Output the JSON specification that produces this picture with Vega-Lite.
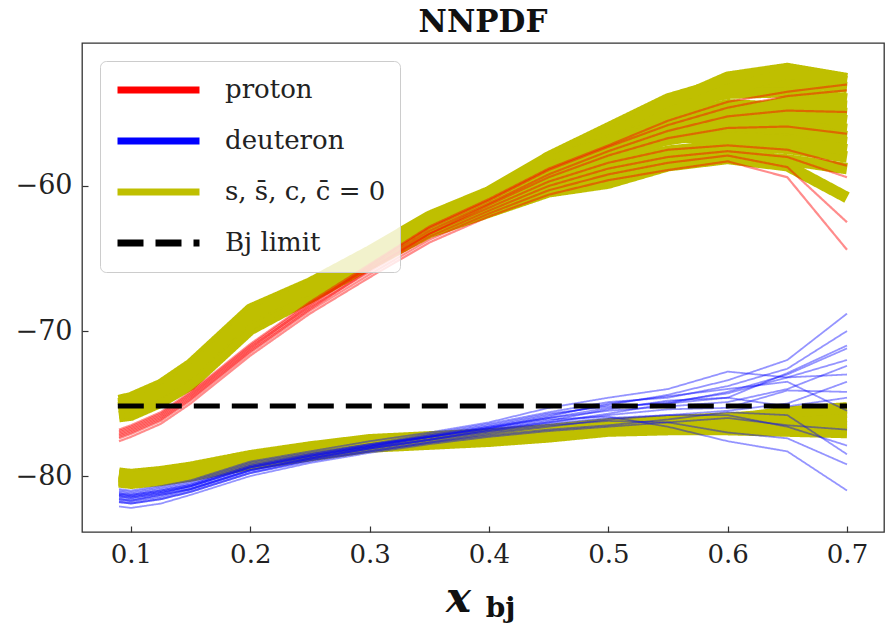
{
  "$schema": "https://vega.github.io/schema/vega-lite/v6.json",
  "width": 802,
  "height": 489,
  "autosize": {"type": "none"},
  "padding": {"left": 82, "top": 43, "right": 7, "bottom": 99},
  "background": "white",
  "title": {"text": "NNPDF", "font": "DejaVu Serif", "fontSize": 31, "fontWeight": "bold", "color": "#111", "offset": 4, "anchor": "middle"},
  "config": {
    "view": {"stroke": "#333", "strokeWidth": 1.3},
    "axis": {"grid": false, "domain": false, "tickSize": -6, "tickColor": "#333", "tickWidth": 1.2, "labelFont": "DejaVu Serif", "labelFontSize": 26, "labelColor": "#222"},
    "axisY": {"labelPadding": 16}
  },
  "datasets": {
    "s0": [
      {"x":0.09,"y":-75.9,"r":"a0"},{"x":0.1,"y":-75.8,"r":"a0"},{"x":0.125,"y":-74.9,"r":"a0"},{"x":0.15,"y":-73.7,"r":"a0"},{"x":0.2,"y":-69.9,"r":"a0"},{"x":0.25,"y":-67.7,"r":"a0"},{"x":0.3,"y":-65.4,"r":"a0"},{"x":0.35,"y":-63.2,"r":"a0"},{"x":0.4,"y":-61.8,"r":"a0"},{"x":0.45,"y":-60.4,"r":"a0"},{"x":0.5,"y":-59.8,"r":"a0"},{"x":0.55,"y":-58.6,"r":"a0"},{"x":0.6,"y":-58.1,"r":"a0"},{"x":0.65,"y":-58.6,"r":"a0"},{"x":0.7,"y":-60.8,"r":"a0"},
      {"x":0.09,"y":-75.6,"r":"a1"},{"x":0.1,"y":-75.5,"r":"a1"},{"x":0.125,"y":-74.6,"r":"a1"},{"x":0.15,"y":-73.4,"r":"a1"},{"x":0.2,"y":-69.6,"r":"a1"},{"x":0.25,"y":-67.5,"r":"a1"},{"x":0.3,"y":-65.2,"r":"a1"},{"x":0.35,"y":-63.0,"r":"a1"},{"x":0.4,"y":-61.6,"r":"a1"},{"x":0.45,"y":-60.0,"r":"a1"},{"x":0.5,"y":-59.3,"r":"a1"},{"x":0.55,"y":-58.3,"r":"a1"},{"x":0.6,"y":-57.9,"r":"a1"},{"x":0.65,"y":-58.2,"r":"a1"},{"x":0.7,"y":-58.8,"r":"a1"},
      {"x":0.09,"y":-75.4,"r":"a2"},{"x":0.1,"y":-75.3,"r":"a2"},{"x":0.125,"y":-74.4,"r":"a2"},{"x":0.15,"y":-73.1,"r":"a2"},{"x":0.2,"y":-69.3,"r":"a2"},{"x":0.25,"y":-67.3,"r":"a2"},{"x":0.3,"y":-65.0,"r":"a2"},{"x":0.35,"y":-62.8,"r":"a2"},{"x":0.4,"y":-61.3,"r":"a2"},{"x":0.45,"y":-59.6,"r":"a2"},{"x":0.5,"y":-58.6,"r":"a2"},{"x":0.55,"y":-57.6,"r":"a2"},{"x":0.6,"y":-57.2,"r":"a2"},{"x":0.65,"y":-57.4,"r":"a2"},{"x":0.7,"y":-58.0,"r":"a2"},
      {"x":0.09,"y":-75.2,"r":"a3"},{"x":0.1,"y":-75.0,"r":"a3"},{"x":0.125,"y":-74.1,"r":"a3"},{"x":0.15,"y":-72.8,"r":"a3"},{"x":0.2,"y":-69.0,"r":"a3"},{"x":0.25,"y":-67.1,"r":"a3"},{"x":0.3,"y":-64.9,"r":"a3"},{"x":0.35,"y":-62.6,"r":"a3"},{"x":0.4,"y":-61.1,"r":"a3"},{"x":0.45,"y":-59.2,"r":"a3"},{"x":0.5,"y":-57.9,"r":"a3"},{"x":0.55,"y":-56.8,"r":"a3"},{"x":0.6,"y":-56.2,"r":"a3"},{"x":0.65,"y":-56.5,"r":"a3"},{"x":0.7,"y":-57.0,"r":"a3"},
      {"x":0.09,"y":-75.0,"r":"a4"},{"x":0.1,"y":-74.8,"r":"a4"},{"x":0.125,"y":-73.9,"r":"a4"},{"x":0.15,"y":-72.5,"r":"a4"},{"x":0.2,"y":-68.7,"r":"a4"},{"x":0.25,"y":-66.9,"r":"a4"},{"x":0.3,"y":-64.8,"r":"a4"},{"x":0.35,"y":-62.4,"r":"a4"},{"x":0.4,"y":-60.9,"r":"a4"},{"x":0.45,"y":-58.9,"r":"a4"},{"x":0.5,"y":-57.3,"r":"a4"},{"x":0.55,"y":-56.0,"r":"a4"},{"x":0.6,"y":-55.4,"r":"a4"},{"x":0.65,"y":-55.6,"r":"a4"},{"x":0.7,"y":-56.1,"r":"a4"},
      {"x":0.09,"y":-75.5,"r":"a5"},{"x":0.1,"y":-75.4,"r":"a5"},{"x":0.125,"y":-74.5,"r":"a5"},{"x":0.15,"y":-73.2,"r":"a5"},{"x":0.2,"y":-69.2,"r":"a5"},{"x":0.25,"y":-67.2,"r":"a5"},{"x":0.3,"y":-64.6,"r":"a5"},{"x":0.35,"y":-62.3,"r":"a5"},{"x":0.4,"y":-60.6,"r":"a5"},{"x":0.45,"y":-58.6,"r":"a5"},{"x":0.5,"y":-56.8,"r":"a5"},{"x":0.55,"y":-55.2,"r":"a5"},{"x":0.6,"y":-54.4,"r":"a5"},{"x":0.65,"y":-54.6,"r":"a5"},{"x":0.7,"y":-55.0,"r":"a5"},
      {"x":0.09,"y":-75.3,"r":"a6"},{"x":0.1,"y":-75.1,"r":"a6"},{"x":0.125,"y":-74.2,"r":"a6"},{"x":0.15,"y":-72.9,"r":"a6"},{"x":0.2,"y":-68.9,"r":"a6"},{"x":0.25,"y":-67.0,"r":"a6"},{"x":0.3,"y":-64.6,"r":"a6"},{"x":0.35,"y":-62.2,"r":"a6"},{"x":0.4,"y":-60.5,"r":"a6"},{"x":0.45,"y":-58.2,"r":"a6"},{"x":0.5,"y":-56.3,"r":"a6"},{"x":0.55,"y":-54.5,"r":"a6"},{"x":0.6,"y":-53.6,"r":"a6"},{"x":0.65,"y":-53.5,"r":"a6"},{"x":0.7,"y":-54.0,"r":"a6"},
      {"x":0.09,"y":-74.8,"r":"a7"},{"x":0.1,"y":-74.6,"r":"a7"},{"x":0.125,"y":-73.7,"r":"a7"},{"x":0.15,"y":-72.3,"r":"a7"},{"x":0.2,"y":-68.5,"r":"a7"},{"x":0.25,"y":-66.7,"r":"a7"},{"x":0.3,"y":-64.5,"r":"a7"},{"x":0.35,"y":-62.1,"r":"a7"},{"x":0.4,"y":-60.4,"r":"a7"},{"x":0.45,"y":-58.0,"r":"a7"},{"x":0.5,"y":-56.0,"r":"a7"},{"x":0.55,"y":-54.0,"r":"a7"},{"x":0.6,"y":-52.8,"r":"a7"},{"x":0.65,"y":-52.8,"r":"a7"},{"x":0.7,"y":-53.2,"r":"a7"},
      {"x":0.09,"y":-75.1,"r":"a8"},{"x":0.1,"y":-74.9,"r":"a8"},{"x":0.125,"y":-74.0,"r":"a8"},{"x":0.15,"y":-72.6,"r":"a8"},{"x":0.2,"y":-68.8,"r":"a8"},{"x":0.25,"y":-67.0,"r":"a8"},{"x":0.3,"y":-64.9,"r":"a8"},{"x":0.35,"y":-62.5,"r":"a8"},{"x":0.4,"y":-60.8,"r":"a8"},{"x":0.45,"y":-58.5,"r":"a8"},{"x":0.5,"y":-56.6,"r":"a8"},{"x":0.55,"y":-54.3,"r":"a8"},{"x":0.6,"y":-52.5,"r":"a8"},{"x":0.65,"y":-51.9,"r":"a8"},{"x":0.7,"y":-52.6,"r":"a8"},
      {"x":0.09,"y":-75.7,"r":"a9"},{"x":0.1,"y":-75.6,"r":"a9"},{"x":0.125,"y":-74.7,"r":"a9"},{"x":0.15,"y":-73.5,"r":"a9"},{"x":0.2,"y":-69.5,"r":"a9"},{"x":0.25,"y":-67.4,"r":"a9"},{"x":0.3,"y":-65.1,"r":"a9"},{"x":0.35,"y":-62.9,"r":"a9"},{"x":0.4,"y":-61.2,"r":"a9"},{"x":0.45,"y":-59.0,"r":"a9"},{"x":0.5,"y":-57.2,"r":"a9"},{"x":0.55,"y":-55.0,"r":"a9"},{"x":0.6,"y":-53.4,"r":"a9"},{"x":0.65,"y":-52.2,"r":"a9"},{"x":0.7,"y":-52.8,"r":"a9"},
      {"x":0.09,"y":-75.4,"r":"a10"},{"x":0.1,"y":-75.2,"r":"a10"},{"x":0.125,"y":-74.3,"r":"a10"},{"x":0.15,"y":-72.9,"r":"a10"},{"x":0.2,"y":-69.1,"r":"a10"},{"x":0.25,"y":-67.1,"r":"a10"},{"x":0.3,"y":-64.8,"r":"a10"},{"x":0.35,"y":-62.5,"r":"a10"},{"x":0.4,"y":-60.9,"r":"a10"},{"x":0.45,"y":-58.8,"r":"a10"},{"x":0.5,"y":-57.6,"r":"a10"},{"x":0.55,"y":-56.4,"r":"a10"},{"x":0.6,"y":-55.8,"r":"a10"},{"x":0.65,"y":-56.0,"r":"a10"},{"x":0.7,"y":-56.6,"r":"a10"},
      {"x":0.09,"y":-75.1,"r":"a11"},{"x":0.1,"y":-74.9,"r":"a11"},{"x":0.125,"y":-74.0,"r":"a11"},{"x":0.15,"y":-72.7,"r":"a11"},{"x":0.2,"y":-68.8,"r":"a11"},{"x":0.25,"y":-66.9,"r":"a11"},{"x":0.3,"y":-64.6,"r":"a11"},{"x":0.35,"y":-62.3,"r":"a11"},{"x":0.4,"y":-60.7,"r":"a11"},{"x":0.45,"y":-58.4,"r":"a11"},{"x":0.5,"y":-56.9,"r":"a11"},{"x":0.55,"y":-55.6,"r":"a11"},{"x":0.6,"y":-54.9,"r":"a11"},{"x":0.65,"y":-55.0,"r":"a11"},{"x":0.7,"y":-55.5,"r":"a11"},
      {"x":0.09,"y":-75.0,"r":"a12"},{"x":0.1,"y":-74.8,"r":"a12"},{"x":0.125,"y":-73.9,"r":"a12"},{"x":0.15,"y":-72.6,"r":"a12"},{"x":0.2,"y":-68.7,"r":"a12"},{"x":0.25,"y":-66.8,"r":"a12"},{"x":0.3,"y":-64.7,"r":"a12"},{"x":0.35,"y":-62.2,"r":"a12"},{"x":0.4,"y":-60.6,"r":"a12"},{"x":0.45,"y":-58.3,"r":"a12"},{"x":0.5,"y":-57.0,"r":"a12"},{"x":0.55,"y":-55.8,"r":"a12"},{"x":0.6,"y":-55.0,"r":"a12"},{"x":0.65,"y":-54.2,"r":"a12"},{"x":0.7,"y":-54.5,"r":"a12"},
      {"x":0.09,"y":-75.3,"r":"a13"},{"x":0.1,"y":-75.1,"r":"a13"},{"x":0.125,"y":-74.2,"r":"a13"},{"x":0.15,"y":-72.8,"r":"a13"},{"x":0.2,"y":-68.9,"r":"a13"},{"x":0.25,"y":-67.0,"r":"a13"},{"x":0.3,"y":-64.8,"r":"a13"},{"x":0.35,"y":-62.4,"r":"a13"},{"x":0.4,"y":-60.7,"r":"a13"},{"x":0.45,"y":-58.7,"r":"a13"},{"x":0.5,"y":-57.6,"r":"a13"},{"x":0.55,"y":-56.6,"r":"a13"},{"x":0.6,"y":-56.7,"r":"a13"},{"x":0.65,"y":-56.9,"r":"a13"},{"x":0.7,"y":-57.5,"r":"a13"},
      {"x":0.09,"y":-80.4,"r":"b0"},{"x":0.1,"y":-80.5,"r":"b0"},{"x":0.125,"y":-80.3,"r":"b0"},{"x":0.15,"y":-80.0,"r":"b0"},{"x":0.2,"y":-79.2,"r":"b0"},{"x":0.25,"y":-78.6,"r":"b0"},{"x":0.3,"y":-78.0,"r":"b0"},{"x":0.35,"y":-77.8,"r":"b0"},{"x":0.4,"y":-77.6,"r":"b0"},{"x":0.45,"y":-77.3,"r":"b0"},{"x":0.5,"y":-76.9,"r":"b0"},{"x":0.55,"y":-76.8,"r":"b0"},{"x":0.6,"y":-76.8,"r":"b0"},{"x":0.65,"y":-76.9,"r":"b0"},{"x":0.7,"y":-77.0,"r":"b0"},
      {"x":0.09,"y":-80.2,"r":"b1"},{"x":0.1,"y":-80.3,"r":"b1"},{"x":0.125,"y":-80.1,"r":"b1"},{"x":0.15,"y":-79.8,"r":"b1"},{"x":0.2,"y":-79.0,"r":"b1"},{"x":0.25,"y":-78.4,"r":"b1"},{"x":0.3,"y":-77.8,"r":"b1"},{"x":0.35,"y":-77.6,"r":"b1"},{"x":0.4,"y":-77.4,"r":"b1"},{"x":0.45,"y":-77.1,"r":"b1"},{"x":0.5,"y":-76.7,"r":"b1"},{"x":0.55,"y":-76.5,"r":"b1"},{"x":0.6,"y":-76.5,"r":"b1"},{"x":0.65,"y":-76.5,"r":"b1"},{"x":0.7,"y":-76.6,"r":"b1"},
      {"x":0.09,"y":-80.0,"r":"b2"},{"x":0.1,"y":-80.1,"r":"b2"},{"x":0.125,"y":-79.9,"r":"b2"},{"x":0.15,"y":-79.6,"r":"b2"},{"x":0.2,"y":-78.8,"r":"b2"},{"x":0.25,"y":-78.2,"r":"b2"},{"x":0.3,"y":-77.7,"r":"b2"},{"x":0.35,"y":-77.5,"r":"b2"},{"x":0.4,"y":-77.3,"r":"b2"},{"x":0.45,"y":-77.0,"r":"b2"},{"x":0.5,"y":-76.6,"r":"b2"},{"x":0.55,"y":-76.4,"r":"b2"},{"x":0.6,"y":-76.3,"r":"b2"},{"x":0.65,"y":-76.2,"r":"b2"},{"x":0.7,"y":-76.2,"r":"b2"},
      {"x":0.09,"y":-79.8,"r":"b3"},{"x":0.1,"y":-79.9,"r":"b3"},{"x":0.125,"y":-79.7,"r":"b3"},{"x":0.15,"y":-79.4,"r":"b3"},{"x":0.2,"y":-78.6,"r":"b3"},{"x":0.25,"y":-78.0,"r":"b3"},{"x":0.3,"y":-77.5,"r":"b3"},{"x":0.35,"y":-77.3,"r":"b3"},{"x":0.4,"y":-77.1,"r":"b3"},{"x":0.45,"y":-76.8,"r":"b3"},{"x":0.5,"y":-76.4,"r":"b3"},{"x":0.55,"y":-76.2,"r":"b3"},{"x":0.6,"y":-76.0,"r":"b3"},{"x":0.65,"y":-75.8,"r":"b3"},{"x":0.7,"y":-75.6,"r":"b3"},
      {"x":0.09,"y":-80.1,"r":"b4"},{"x":0.1,"y":-80.2,"r":"b4"},{"x":0.125,"y":-80.0,"r":"b4"},{"x":0.15,"y":-79.7,"r":"b4"},{"x":0.2,"y":-78.9,"r":"b4"},{"x":0.25,"y":-78.3,"r":"b4"},{"x":0.3,"y":-77.6,"r":"b4"},{"x":0.35,"y":-77.4,"r":"b4"},{"x":0.4,"y":-77.2,"r":"b4"},{"x":0.45,"y":-76.9,"r":"b4"},{"x":0.5,"y":-76.5,"r":"b4"},{"x":0.55,"y":-76.3,"r":"b4"},{"x":0.6,"y":-76.2,"r":"b4"},{"x":0.65,"y":-76.0,"r":"b4"},{"x":0.7,"y":-75.9,"r":"b4"},
      {"x":0.09,"y":-79.9,"r":"b5"},{"x":0.1,"y":-80.0,"r":"b5"},{"x":0.125,"y":-79.8,"r":"b5"},{"x":0.15,"y":-79.5,"r":"b5"},{"x":0.2,"y":-78.7,"r":"b5"},{"x":0.25,"y":-78.1,"r":"b5"},{"x":0.3,"y":-77.6,"r":"b5"},{"x":0.35,"y":-77.4,"r":"b5"},{"x":0.4,"y":-77.2,"r":"b5"},{"x":0.45,"y":-76.9,"r":"b5"},{"x":0.5,"y":-76.6,"r":"b5"},{"x":0.55,"y":-76.4,"r":"b5"},{"x":0.6,"y":-76.1,"r":"b5"},{"x":0.65,"y":-75.6,"r":"b5"},{"x":0.7,"y":-75.3,"r":"b5"},
      {"x":0.09,"y":-80.3,"r":"b6"},{"x":0.1,"y":-80.4,"r":"b6"},{"x":0.125,"y":-80.2,"r":"b6"},{"x":0.15,"y":-79.9,"r":"b6"},{"x":0.2,"y":-79.1,"r":"b6"},{"x":0.25,"y":-78.5,"r":"b6"},{"x":0.3,"y":-77.9,"r":"b6"},{"x":0.35,"y":-77.7,"r":"b6"},{"x":0.4,"y":-77.5,"r":"b6"},{"x":0.45,"y":-77.2,"r":"b6"},{"x":0.5,"y":-76.8,"r":"b6"},{"x":0.55,"y":-76.6,"r":"b6"},{"x":0.6,"y":-76.6,"r":"b6"},{"x":0.65,"y":-76.7,"r":"b6"},{"x":0.7,"y":-76.8,"r":"b6"},
      {"x":0.09,"y":-80.0,"r":"b7"},{"x":0.1,"y":-80.1,"r":"b7"},{"x":0.125,"y":-79.9,"r":"b7"},{"x":0.15,"y":-79.6,"r":"b7"},{"x":0.2,"y":-78.8,"r":"b7"},{"x":0.25,"y":-78.2,"r":"b7"},{"x":0.3,"y":-77.7,"r":"b7"},{"x":0.35,"y":-77.5,"r":"b7"},{"x":0.4,"y":-77.3,"r":"b7"},{"x":0.45,"y":-77.0,"r":"b7"},{"x":0.5,"y":-76.7,"r":"b7"},{"x":0.55,"y":-76.6,"r":"b7"},{"x":0.6,"y":-76.4,"r":"b7"},{"x":0.65,"y":-76.4,"r":"b7"},{"x":0.7,"y":-76.4,"r":"b7"}
    ],
    "pr": [
      {"x":0.09,"y":-77.6,"r":"p0"},{"x":0.1,"y":-77.3,"r":"p0"},{"x":0.125,"y":-76.4,"r":"p0"},{"x":0.15,"y":-75.0,"r":"p0"},{"x":0.2,"y":-71.7,"r":"p0"},{"x":0.25,"y":-68.8,"r":"p0"},{"x":0.3,"y":-66.3,"r":"p0"},{"x":0.35,"y":-63.9,"r":"p0"},{"x":0.4,"y":-62.1,"r":"p0"},{"x":0.45,"y":-60.6,"r":"p0"},{"x":0.5,"y":-59.6,"r":"p0"},{"x":0.55,"y":-58.9,"r":"p0"},{"x":0.6,"y":-58.3,"r":"p0"},{"x":0.65,"y":-59.4,"r":"p0"},{"x":0.7,"y":-64.4,"r":"p0"},
      {"x":0.09,"y":-77.4,"r":"p1"},{"x":0.1,"y":-77.1,"r":"p1"},{"x":0.125,"y":-76.2,"r":"p1"},{"x":0.15,"y":-74.8,"r":"p1"},{"x":0.2,"y":-71.5,"r":"p1"},{"x":0.25,"y":-68.6,"r":"p1"},{"x":0.3,"y":-66.1,"r":"p1"},{"x":0.35,"y":-63.7,"r":"p1"},{"x":0.4,"y":-61.9,"r":"p1"},{"x":0.45,"y":-60.3,"r":"p1"},{"x":0.5,"y":-59.2,"r":"p1"},{"x":0.55,"y":-58.4,"r":"p1"},{"x":0.6,"y":-57.9,"r":"p1"},{"x":0.65,"y":-58.7,"r":"p1"},{"x":0.7,"y":-62.5,"r":"p1"},
      {"x":0.09,"y":-77.2,"r":"p2"},{"x":0.1,"y":-76.9,"r":"p2"},{"x":0.125,"y":-76.0,"r":"p2"},{"x":0.15,"y":-74.6,"r":"p2"},{"x":0.2,"y":-71.3,"r":"p2"},{"x":0.25,"y":-68.4,"r":"p2"},{"x":0.3,"y":-65.9,"r":"p2"},{"x":0.35,"y":-63.5,"r":"p2"},{"x":0.4,"y":-61.7,"r":"p2"},{"x":0.45,"y":-60.0,"r":"p2"},{"x":0.5,"y":-58.8,"r":"p2"},{"x":0.55,"y":-58.0,"r":"p2"},{"x":0.6,"y":-57.6,"r":"p2"},{"x":0.65,"y":-58.0,"r":"p2"},{"x":0.7,"y":-59.4,"r":"p2"},
      {"x":0.09,"y":-77.0,"r":"p3"},{"x":0.1,"y":-76.7,"r":"p3"},{"x":0.125,"y":-75.8,"r":"p3"},{"x":0.15,"y":-74.4,"r":"p3"},{"x":0.2,"y":-71.1,"r":"p3"},{"x":0.25,"y":-68.3,"r":"p3"},{"x":0.3,"y":-65.7,"r":"p3"},{"x":0.35,"y":-63.3,"r":"p3"},{"x":0.4,"y":-61.5,"r":"p3"},{"x":0.45,"y":-59.7,"r":"p3"},{"x":0.5,"y":-58.4,"r":"p3"},{"x":0.55,"y":-57.5,"r":"p3"},{"x":0.6,"y":-57.2,"r":"p3"},{"x":0.65,"y":-57.5,"r":"p3"},{"x":0.7,"y":-58.6,"r":"p3"},
      {"x":0.09,"y":-77.3,"r":"p4"},{"x":0.1,"y":-77.0,"r":"p4"},{"x":0.125,"y":-76.1,"r":"p4"},{"x":0.15,"y":-74.7,"r":"p4"},{"x":0.2,"y":-71.4,"r":"p4"},{"x":0.25,"y":-68.5,"r":"p4"},{"x":0.3,"y":-65.8,"r":"p4"},{"x":0.35,"y":-63.3,"r":"p4"},{"x":0.4,"y":-61.3,"r":"p4"},{"x":0.45,"y":-59.4,"r":"p4"},{"x":0.5,"y":-57.9,"r":"p4"},{"x":0.55,"y":-56.7,"r":"p4"},{"x":0.6,"y":-56.0,"r":"p4"},{"x":0.65,"y":-55.9,"r":"p4"},{"x":0.7,"y":-56.4,"r":"p4"},
      {"x":0.09,"y":-76.9,"r":"p5"},{"x":0.1,"y":-76.6,"r":"p5"},{"x":0.125,"y":-75.7,"r":"p5"},{"x":0.15,"y":-74.3,"r":"p5"},{"x":0.2,"y":-71.0,"r":"p5"},{"x":0.25,"y":-68.1,"r":"p5"},{"x":0.3,"y":-65.6,"r":"p5"},{"x":0.35,"y":-63.1,"r":"p5"},{"x":0.4,"y":-61.2,"r":"p5"},{"x":0.45,"y":-59.2,"r":"p5"},{"x":0.5,"y":-57.6,"r":"p5"},{"x":0.55,"y":-56.2,"r":"p5"},{"x":0.6,"y":-55.2,"r":"p5"},{"x":0.65,"y":-54.8,"r":"p5"},{"x":0.7,"y":-54.9,"r":"p5"},
      {"x":0.09,"y":-77.1,"r":"p6"},{"x":0.1,"y":-76.8,"r":"p6"},{"x":0.125,"y":-75.9,"r":"p6"},{"x":0.15,"y":-74.5,"r":"p6"},{"x":0.2,"y":-71.2,"r":"p6"},{"x":0.25,"y":-68.2,"r":"p6"},{"x":0.3,"y":-65.5,"r":"p6"},{"x":0.35,"y":-62.9,"r":"p6"},{"x":0.4,"y":-61.0,"r":"p6"},{"x":0.45,"y":-58.9,"r":"p6"},{"x":0.5,"y":-57.3,"r":"p6"},{"x":0.55,"y":-55.8,"r":"p6"},{"x":0.6,"y":-54.6,"r":"p6"},{"x":0.65,"y":-53.8,"r":"p6"},{"x":0.7,"y":-53.4,"r":"p6"},
      {"x":0.09,"y":-76.8,"r":"p7"},{"x":0.1,"y":-76.5,"r":"p7"},{"x":0.125,"y":-75.6,"r":"p7"},{"x":0.15,"y":-74.2,"r":"p7"},{"x":0.2,"y":-70.9,"r":"p7"},{"x":0.25,"y":-68.0,"r":"p7"},{"x":0.3,"y":-65.4,"r":"p7"},{"x":0.35,"y":-62.8,"r":"p7"},{"x":0.4,"y":-60.9,"r":"p7"},{"x":0.45,"y":-58.8,"r":"p7"},{"x":0.5,"y":-57.2,"r":"p7"},{"x":0.55,"y":-55.5,"r":"p7"},{"x":0.6,"y":-54.2,"r":"p7"},{"x":0.65,"y":-53.5,"r":"p7"},{"x":0.7,"y":-53.0,"r":"p7"}
    ],
    "de": [
      {"x":0.09,"y":-81.3,"r":"d0"},{"x":0.1,"y":-81.4,"r":"d0"},{"x":0.125,"y":-81.1,"r":"d0"},{"x":0.15,"y":-80.7,"r":"d0"},{"x":0.2,"y":-79.4,"r":"d0"},{"x":0.25,"y":-78.6,"r":"d0"},{"x":0.3,"y":-77.9,"r":"d0"},{"x":0.35,"y":-77.3,"r":"d0"},{"x":0.4,"y":-76.6,"r":"d0"},{"x":0.45,"y":-75.8,"r":"d0"},{"x":0.5,"y":-75.1,"r":"d0"},{"x":0.55,"y":-74.4,"r":"d0"},{"x":0.6,"y":-73.4,"r":"d0"},{"x":0.65,"y":-72.0,"r":"d0"},{"x":0.7,"y":-68.8,"r":"d0"},
      {"x":0.09,"y":-81.0,"r":"d1"},{"x":0.1,"y":-81.1,"r":"d1"},{"x":0.125,"y":-80.8,"r":"d1"},{"x":0.15,"y":-80.4,"r":"d1"},{"x":0.2,"y":-79.1,"r":"d1"},{"x":0.25,"y":-78.4,"r":"d1"},{"x":0.3,"y":-77.8,"r":"d1"},{"x":0.35,"y":-77.1,"r":"d1"},{"x":0.4,"y":-76.4,"r":"d1"},{"x":0.45,"y":-75.6,"r":"d1"},{"x":0.5,"y":-74.9,"r":"d1"},{"x":0.55,"y":-74.6,"r":"d1"},{"x":0.6,"y":-73.8,"r":"d1"},{"x":0.65,"y":-72.6,"r":"d1"},{"x":0.7,"y":-70.0,"r":"d1"},
      {"x":0.09,"y":-81.6,"r":"d2"},{"x":0.1,"y":-81.7,"r":"d2"},{"x":0.125,"y":-81.3,"r":"d2"},{"x":0.15,"y":-80.9,"r":"d2"},{"x":0.2,"y":-79.6,"r":"d2"},{"x":0.25,"y":-78.8,"r":"d2"},{"x":0.3,"y":-78.1,"r":"d2"},{"x":0.35,"y":-77.5,"r":"d2"},{"x":0.4,"y":-76.9,"r":"d2"},{"x":0.45,"y":-76.3,"r":"d2"},{"x":0.5,"y":-75.7,"r":"d2"},{"x":0.55,"y":-75.0,"r":"d2"},{"x":0.6,"y":-74.2,"r":"d2"},{"x":0.65,"y":-73.0,"r":"d2"},{"x":0.7,"y":-71.2,"r":"d2"},
      {"x":0.09,"y":-81.2,"r":"d3"},{"x":0.1,"y":-81.3,"r":"d3"},{"x":0.125,"y":-81.0,"r":"d3"},{"x":0.15,"y":-80.6,"r":"d3"},{"x":0.2,"y":-79.3,"r":"d3"},{"x":0.25,"y":-78.6,"r":"d3"},{"x":0.3,"y":-77.9,"r":"d3"},{"x":0.35,"y":-77.2,"r":"d3"},{"x":0.4,"y":-76.6,"r":"d3"},{"x":0.45,"y":-76.0,"r":"d3"},{"x":0.5,"y":-75.5,"r":"d3"},{"x":0.55,"y":-75.2,"r":"d3"},{"x":0.6,"y":-74.9,"r":"d3"},{"x":0.65,"y":-74.0,"r":"d3"},{"x":0.7,"y":-72.4,"r":"d3"},
      {"x":0.09,"y":-81.8,"r":"d4"},{"x":0.1,"y":-81.9,"r":"d4"},{"x":0.125,"y":-81.6,"r":"d4"},{"x":0.15,"y":-81.1,"r":"d4"},{"x":0.2,"y":-79.8,"r":"d4"},{"x":0.25,"y":-78.9,"r":"d4"},{"x":0.3,"y":-78.3,"r":"d4"},{"x":0.35,"y":-77.7,"r":"d4"},{"x":0.4,"y":-77.1,"r":"d4"},{"x":0.45,"y":-76.6,"r":"d4"},{"x":0.5,"y":-76.1,"r":"d4"},{"x":0.55,"y":-75.8,"r":"d4"},{"x":0.6,"y":-75.5,"r":"d4"},{"x":0.65,"y":-75.0,"r":"d4"},{"x":0.7,"y":-73.5,"r":"d4"},
      {"x":0.09,"y":-81.4,"r":"d5"},{"x":0.1,"y":-81.5,"r":"d5"},{"x":0.125,"y":-81.2,"r":"d5"},{"x":0.15,"y":-80.8,"r":"d5"},{"x":0.2,"y":-79.5,"r":"d5"},{"x":0.25,"y":-78.7,"r":"d5"},{"x":0.3,"y":-78.0,"r":"d5"},{"x":0.35,"y":-77.4,"r":"d5"},{"x":0.4,"y":-76.8,"r":"d5"},{"x":0.45,"y":-76.2,"r":"d5"},{"x":0.5,"y":-75.4,"r":"d5"},{"x":0.55,"y":-74.8,"r":"d5"},{"x":0.6,"y":-74.6,"r":"d5"},{"x":0.65,"y":-75.2,"r":"d5"},{"x":0.7,"y":-74.6,"r":"d5"},
      {"x":0.09,"y":-81.1,"r":"d6"},{"x":0.1,"y":-81.2,"r":"d6"},{"x":0.125,"y":-80.9,"r":"d6"},{"x":0.15,"y":-80.5,"r":"d6"},{"x":0.2,"y":-79.2,"r":"d6"},{"x":0.25,"y":-78.5,"r":"d6"},{"x":0.3,"y":-77.8,"r":"d6"},{"x":0.35,"y":-77.3,"r":"d6"},{"x":0.4,"y":-76.7,"r":"d6"},{"x":0.45,"y":-75.9,"r":"d6"},{"x":0.5,"y":-75.0,"r":"d6"},{"x":0.55,"y":-74.5,"r":"d6"},{"x":0.6,"y":-74.0,"r":"d6"},{"x":0.65,"y":-73.5,"r":"d6"},{"x":0.7,"y":-75.5,"r":"d6"},
      {"x":0.09,"y":-82.1,"r":"d7"},{"x":0.1,"y":-82.2,"r":"d7"},{"x":0.125,"y":-81.9,"r":"d7"},{"x":0.15,"y":-81.3,"r":"d7"},{"x":0.2,"y":-80.0,"r":"d7"},{"x":0.25,"y":-79.1,"r":"d7"},{"x":0.3,"y":-78.4,"r":"d7"},{"x":0.35,"y":-77.8,"r":"d7"},{"x":0.4,"y":-77.3,"r":"d7"},{"x":0.45,"y":-76.9,"r":"d7"},{"x":0.5,"y":-76.6,"r":"d7"},{"x":0.55,"y":-76.3,"r":"d7"},{"x":0.6,"y":-76.0,"r":"d7"},{"x":0.65,"y":-76.5,"r":"d7"},{"x":0.7,"y":-76.8,"r":"d7"},
      {"x":0.09,"y":-81.5,"r":"d8"},{"x":0.1,"y":-81.6,"r":"d8"},{"x":0.125,"y":-81.3,"r":"d8"},{"x":0.15,"y":-80.9,"r":"d8"},{"x":0.2,"y":-79.6,"r":"d8"},{"x":0.25,"y":-78.8,"r":"d8"},{"x":0.3,"y":-78.1,"r":"d8"},{"x":0.35,"y":-77.5,"r":"d8"},{"x":0.4,"y":-76.9,"r":"d8"},{"x":0.45,"y":-76.4,"r":"d8"},{"x":0.5,"y":-76.0,"r":"d8"},{"x":0.55,"y":-75.8,"r":"d8"},{"x":0.6,"y":-75.8,"r":"d8"},{"x":0.65,"y":-76.6,"r":"d8"},{"x":0.7,"y":-77.9,"r":"d8"},
      {"x":0.09,"y":-81.7,"r":"d9"},{"x":0.1,"y":-81.8,"r":"d9"},{"x":0.125,"y":-81.5,"r":"d9"},{"x":0.15,"y":-81.0,"r":"d9"},{"x":0.2,"y":-79.7,"r":"d9"},{"x":0.25,"y":-78.9,"r":"d9"},{"x":0.3,"y":-78.2,"r":"d9"},{"x":0.35,"y":-77.6,"r":"d9"},{"x":0.4,"y":-77.0,"r":"d9"},{"x":0.45,"y":-76.5,"r":"d9"},{"x":0.5,"y":-76.2,"r":"d9"},{"x":0.55,"y":-76.3,"r":"d9"},{"x":0.6,"y":-77.0,"r":"d9"},{"x":0.65,"y":-77.4,"r":"d9"},{"x":0.7,"y":-79.2,"r":"d9"},
      {"x":0.09,"y":-81.3,"r":"d10"},{"x":0.1,"y":-81.4,"r":"d10"},{"x":0.125,"y":-81.1,"r":"d10"},{"x":0.15,"y":-80.7,"r":"d10"},{"x":0.2,"y":-79.4,"r":"d10"},{"x":0.25,"y":-78.6,"r":"d10"},{"x":0.3,"y":-78.0,"r":"d10"},{"x":0.35,"y":-77.3,"r":"d10"},{"x":0.4,"y":-76.7,"r":"d10"},{"x":0.45,"y":-76.1,"r":"d10"},{"x":0.5,"y":-75.9,"r":"d10"},{"x":0.55,"y":-76.6,"r":"d10"},{"x":0.6,"y":-77.6,"r":"d10"},{"x":0.65,"y":-78.3,"r":"d10"},{"x":0.7,"y":-81.0,"r":"d10"},
      {"x":0.09,"y":-80.9,"r":"d11"},{"x":0.1,"y":-81.0,"r":"d11"},{"x":0.125,"y":-80.7,"r":"d11"},{"x":0.15,"y":-80.3,"r":"d11"},{"x":0.2,"y":-79.0,"r":"d11"},{"x":0.25,"y":-78.3,"r":"d11"},{"x":0.3,"y":-77.6,"r":"d11"},{"x":0.35,"y":-77.0,"r":"d11"},{"x":0.4,"y":-76.3,"r":"d11"},{"x":0.45,"y":-75.3,"r":"d11"},{"x":0.5,"y":-74.6,"r":"d11"},{"x":0.55,"y":-74.0,"r":"d11"},{"x":0.6,"y":-72.8,"r":"d11"},{"x":0.65,"y":-73.2,"r":"d11"},{"x":0.7,"y":-72.0,"r":"d11"},
      {"x":0.09,"y":-81.4,"r":"d12"},{"x":0.1,"y":-81.5,"r":"d12"},{"x":0.125,"y":-81.2,"r":"d12"},{"x":0.15,"y":-80.7,"r":"d12"},{"x":0.2,"y":-79.4,"r":"d12"},{"x":0.25,"y":-78.7,"r":"d12"},{"x":0.3,"y":-78.0,"r":"d12"},{"x":0.35,"y":-77.3,"r":"d12"},{"x":0.4,"y":-76.7,"r":"d12"},{"x":0.45,"y":-76.0,"r":"d12"},{"x":0.5,"y":-75.3,"r":"d12"},{"x":0.55,"y":-74.9,"r":"d12"},{"x":0.6,"y":-74.3,"r":"d12"},{"x":0.65,"y":-73.2,"r":"d12"},{"x":0.7,"y":-73.0,"r":"d12"},
      {"x":0.09,"y":-81.6,"r":"d13"},{"x":0.1,"y":-81.7,"r":"d13"},{"x":0.125,"y":-81.4,"r":"d13"},{"x":0.15,"y":-80.9,"r":"d13"},{"x":0.2,"y":-79.6,"r":"d13"},{"x":0.25,"y":-78.8,"r":"d13"},{"x":0.3,"y":-78.1,"r":"d13"},{"x":0.35,"y":-77.5,"r":"d13"},{"x":0.4,"y":-76.8,"r":"d13"},{"x":0.45,"y":-76.3,"r":"d13"},{"x":0.5,"y":-75.8,"r":"d13"},{"x":0.55,"y":-75.4,"r":"d13"},{"x":0.6,"y":-75.3,"r":"d13"},{"x":0.65,"y":-74.1,"r":"d13"},{"x":0.7,"y":-74.2,"r":"d13"},
      {"x":0.09,"y":-81.2,"r":"d14"},{"x":0.1,"y":-81.3,"r":"d14"},{"x":0.125,"y":-81.0,"r":"d14"},{"x":0.15,"y":-80.6,"r":"d14"},{"x":0.2,"y":-79.3,"r":"d14"},{"x":0.25,"y":-78.5,"r":"d14"},{"x":0.3,"y":-77.9,"r":"d14"},{"x":0.35,"y":-77.2,"r":"d14"},{"x":0.4,"y":-76.5,"r":"d14"},{"x":0.45,"y":-75.7,"r":"d14"},{"x":0.5,"y":-75.2,"r":"d14"},{"x":0.55,"y":-75.0,"r":"d14"},{"x":0.6,"y":-74.6,"r":"d14"},{"x":0.65,"y":-72.9,"r":"d14"},{"x":0.7,"y":-71.0,"r":"d14"},
      {"x":0.09,"y":-81.8,"r":"d15"},{"x":0.1,"y":-81.9,"r":"d15"},{"x":0.125,"y":-81.6,"r":"d15"},{"x":0.15,"y":-81.1,"r":"d15"},{"x":0.2,"y":-79.8,"r":"d15"},{"x":0.25,"y":-79.0,"r":"d15"},{"x":0.3,"y":-78.3,"r":"d15"},{"x":0.35,"y":-77.7,"r":"d15"},{"x":0.4,"y":-77.2,"r":"d15"},{"x":0.45,"y":-76.8,"r":"d15"},{"x":0.5,"y":-76.5,"r":"d15"},{"x":0.55,"y":-76.1,"r":"d15"},{"x":0.6,"y":-75.6,"r":"d15"},{"x":0.65,"y":-75.8,"r":"d15"},{"x":0.7,"y":-78.5,"r":"d15"}
    ],
    "bj": [{"x": 0.089, "x2": 0.7, "y": -75.17}]
  },
  "layer": [
    {
      "data": {"name": "s0"},
      "mark": {"type": "line", "strokeWidth": 11.5, "strokeCap": "butt", "strokeJoin": "round"},
      "encoding": {
        "x": {"field": "x", "type": "quantitative", "scale": {"domain": [0.059, 0.731], "nice": false, "zero": false},
          "axis": {"orient": "bottom", "values": [0.1, 0.2, 0.3, 0.4, 0.5, 0.6, 0.7], "labelPadding": 15, "title": "x", "titleFont": "DejaVu Serif", "titleFontSize": 42, "titleFontWeight": "bold", "titleFontStyle": "italic", "titleColor": "#111", "titleX": 376, "titleY": 79, "titleAlign": "center", "titleBaseline": "alphabetic"}},
        "y": {"field": "y", "type": "quantitative", "scale": {"domain": [-83.86, -50.14], "nice": false, "zero": false},
          "axis": {"values": [-80, -70, -60], "labelFontSize": 27, "title": null}},
        "detail": {"field": "r"},
        "color": {"datum": "s, s̄, c, c̄ = 0", "type": "nominal",
          "scale": {"domain": ["proton", "deuteron", "s, s̄, c, c̄ = 0", "Bj limit"], "range": ["#ff0000", "#0000ff", "#bfbf00", "#000000"]},
          "legend": {"title": null, "orient": "top-left", "offset": 18, "padding": 14, "fillColor": "rgba(255,255,255,0.8)", "strokeColor": "#cccccc", "cornerRadius": 6, "labelFont": "DejaVu Serif", "labelFontSize": 26, "labelColor": "#222", "labelLimit": 500, "symbolType": "stroke", "symbolSize": 6724, "symbolStrokeWidth": 7, "labelOffset": 22, "clipHeight": 30, "rowPadding": 21,
            "encode": {"symbols": {"update": {"opacity": {"value": 1}, "strokeWidth": {"value": 7}}}}}},
        "strokeDash": {"datum": "s, s̄, c, c̄ = 0", "type": "nominal",
          "scale": {"domain": ["proton", "deuteron", "s, s̄, c, c̄ = 0", "Bj limit"], "range": [[1, 0], [1, 0], [1, 0], [26, 12]]},
          "legend": {"title": null}}
      }
    },
    {
      "data": {"name": "pr"},
      "mark": {"type": "line", "strokeWidth": 2.2, "opacity": 0.45},
      "encoding": {
        "x": {"field": "x", "type": "quantitative", "axis": null},
        "y": {"field": "y", "type": "quantitative"},
        "detail": {"field": "r"},
        "color": {"datum": "proton", "type": "nominal"},
        "strokeDash": {"datum": "proton", "type": "nominal"}
      }
    },
    {
      "data": {"name": "de"},
      "mark": {"type": "line", "strokeWidth": 1.8, "opacity": 0.42},
      "encoding": {
        "x": {"field": "x", "type": "quantitative", "axis": null},
        "y": {"field": "y", "type": "quantitative"},
        "detail": {"field": "r"},
        "color": {"datum": "deuteron", "type": "nominal"},
        "strokeDash": {"datum": "deuteron", "type": "nominal"}
      }
    },
    {
      "data": {"name": "bj"},
      "mark": {"type": "rule", "strokeWidth": 5},
      "encoding": {
        "x": {"field": "x", "type": "quantitative",
          "axis": {"orient": "bottom", "labels": false, "ticks": false, "domain": false, "grid": false, "title": "bj", "titleFont": "DejaVu Serif", "titleFontSize": 28, "titleFontWeight": "bold", "titleFontStyle": "normal", "titleColor": "#111", "titleX": 418, "titleY": 84, "titleAlign": "center", "titleBaseline": "alphabetic"}},
        "x2": {"field": "x2"},
        "y": {"field": "y", "type": "quantitative"},
        "color": {"datum": "Bj limit", "type": "nominal"},
        "strokeDash": {"datum": "Bj limit", "type": "nominal"}
      }
    }
  ],
  "resolve": {"axis": {"x": "independent"}}
}
